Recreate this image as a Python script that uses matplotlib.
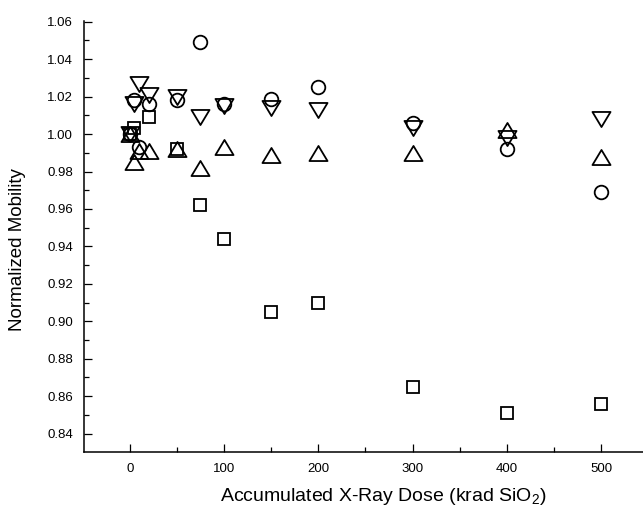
import numpy as np
import matplotlib
matplotlib.use("Agg")
import matplotlib.pyplot as plt
from matplotlib.ticker import MultipleLocator
from matplotlib.path import Path

plt.rcParams['font.family'] = ['Liberation Sans', 'DejaVu Sans']
plt.rcParams['mathtext.fontset'] = 'custom'
plt.rcParams['mathtext.rm'] = 'Liberation Sans'
plt.rcParams['mathtext.default'] = 'rm'

# dose (krad SiO2) and normalized mobility
sq_x = [0, 5, 20, 50, 75, 100, 150, 200, 300, 400, 500]
sq_y = [1.000, 1.003, 1.009, 0.992, 0.962, 0.944, 0.905, 0.910, 0.865, 0.851, 0.856]

ci_x = [0, 5, 10, 20, 50, 75, 100, 150, 200, 300, 400, 500]
ci_y = [1.000, 1.018, 0.993, 1.016, 1.018, 1.049, 1.016, 1.019, 1.025, 1.006, 0.992, 0.969]

dn_x = [0, 5, 10, 20, 50, 75, 100, 150, 200, 300, 400, 500]
dn_y = [1.000, 1.016, 1.027, 1.021, 1.020, 1.009, 1.015, 1.014, 1.013, 1.003, 0.998, 1.008]

up_x = [0, 5, 10, 20, 50, 75, 100, 150, 200, 300, 400, 500]
up_y = [1.000, 0.985, 0.991, 0.991, 0.992, 0.982, 0.993, 0.989, 0.990, 0.990, 1.002, 0.988]

# slightly wide triangles, like the Origin symbols
tri_up = Path([(-1.2, -1), (1.2, -1), (0, 1), (-1.2, -1)],
              [Path.MOVETO, Path.LINETO, Path.LINETO, Path.CLOSEPOLY])
tri_dn = Path([(-1.2, 1), (1.2, 1), (0, -1), (-1.2, 1)],
              [Path.MOVETO, Path.LINETO, Path.LINETO, Path.CLOSEPOLY])

fig = plt.figure(figsize=(6.43, 5.12), dpi=100)
ax = fig.add_axes([84/643, 1 - 452/512, (643 - 84)/643, (452 - 20.8)/512])

kw = dict(linestyle='none', markerfacecolor='none', markeredgecolor='black',
          markeredgewidth=1.3)
ax.plot(sq_x, sq_y, marker='s', markersize=8.5, **kw)
ax.plot(ci_x, ci_y, marker='o', markersize=9.8, **kw)
ax.plot(dn_x, dn_y, marker=tri_dn, markersize=13, **kw)
ax.plot(up_x, up_y, marker=tri_up, markersize=13, **kw)

ax.set_xlim(-48.5, 544.3)
ax.set_ylim(0.8302, 1.0605)
ax.xaxis.set_major_locator(MultipleLocator(100))
ax.xaxis.set_minor_locator(MultipleLocator(50))
ax.yaxis.set_major_locator(MultipleLocator(0.02))
ax.yaxis.set_minor_locator(MultipleLocator(0.01))
ax.yaxis.set_major_formatter(plt.FormatStrFormatter('%.2f'))

ax.spines['top'].set_visible(False)
ax.spines['right'].set_visible(False)
for s in ('left', 'bottom'):
    ax.spines[s].set_linewidth(1.1)

ax.tick_params(which='major', direction='in', length=6, width=0.9,
               labelsize=9.5, pad=8)
ax.tick_params(which='minor', direction='in', length=3.5, width=0.9)

ax.set_xlabel('Accumulated X-Ray Dose (krad SiO$_2$)', fontsize=14)
ax.xaxis.set_label_coords(0.535, -0.078)
ax.set_ylabel('Normalized Mobility', fontsize=13.5)
ax.yaxis.set_label_coords(-0.103, 0.47)

fig.savefig('out.png', dpi=100)
